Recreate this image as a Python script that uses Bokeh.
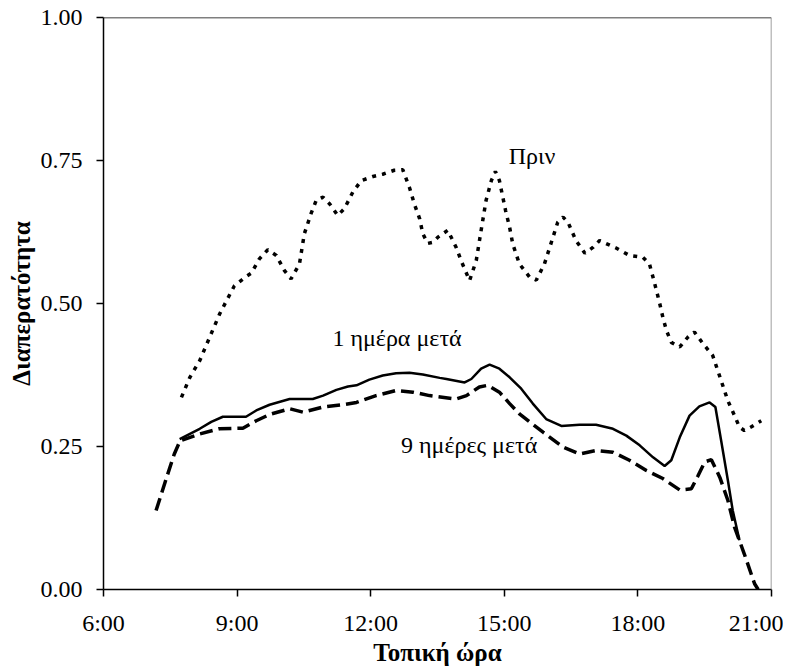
from bokeh.plotting import figure
from bokeh.models import Range1d, FixedTicker, Span, Label
from bokeh.embed import file_html
from bokeh.resources import INLINE

# ---- data (hours of local time, transmittance) ----
x_ticks = [6, 9, 12, 15, 18, 21]
x_tick_labels = ["6:00", "9:00", "12:00", "15:00", "18:00", "21:00"]
y_ticks = [0.0, 0.25, 0.5, 0.75, 1.0]
y_tick_labels = ["0.00", "0.25", "0.50", "0.75", "1.00"]

before_hours = [7.75, 7.94, 8.16, 8.45, 8.61, 8.77, 8.94, 9.20, 9.32, 9.50,
                9.69, 9.88, 10.06, 10.21, 10.40, 10.51, 10.66, 10.78, 10.93, 11.08,
                11.26, 11.41, 11.60, 11.79, 12.05, 12.27, 12.53, 12.72, 12.87, 12.98,
                13.10, 13.17, 13.28, 13.40, 13.51, 13.73, 13.92, 14.03, 14.22, 14.37,
                14.48, 14.59, 14.71, 14.80, 14.89, 15.03, 15.12, 15.19, 15.34, 15.57,
                15.72, 15.90, 16.02, 16.20, 16.32, 16.43, 16.61, 16.81, 16.99, 17.14,
                17.51, 17.81, 18.11, 18.26, 18.37, 18.49, 18.56, 18.64, 18.75, 18.94,
                19.12, 19.27, 19.46, 19.68, 19.87, 20.02, 20.17, 20.28, 20.39, 20.54,
                20.77]
before_vals = [0.336, 0.371, 0.400, 0.453, 0.482, 0.506, 0.531, 0.547, 0.553, 0.578,
               0.594, 0.584, 0.558, 0.543, 0.569, 0.622, 0.657, 0.681, 0.686, 0.674,
               0.654, 0.666, 0.695, 0.715, 0.722, 0.726, 0.733, 0.734, 0.703, 0.674,
               0.648, 0.622, 0.605, 0.607, 0.616, 0.628, 0.598, 0.575, 0.540, 0.575,
               0.628, 0.680, 0.715, 0.731, 0.715, 0.662, 0.633, 0.604, 0.569, 0.546,
               0.541, 0.569, 0.598, 0.642, 0.651, 0.642, 0.610, 0.588, 0.598, 0.610,
               0.597, 0.584, 0.581, 0.569, 0.537, 0.500, 0.476, 0.453, 0.432, 0.424,
               0.441, 0.450, 0.430, 0.409, 0.365, 0.330, 0.304, 0.284, 0.278, 0.284,
               0.295]

day1_hours = [7.71, 8.16, 8.42, 8.68, 9.20, 9.43, 9.73, 10.18, 10.70, 10.93,
              11.23, 11.49, 11.68, 11.97, 12.27, 12.57, 12.87, 13.17, 13.55, 13.70,
              14.11, 14.26, 14.48, 14.67, 14.89, 15.12, 15.38, 15.64, 15.94, 16.28,
              16.69, 17.06, 17.44, 17.74, 18.04, 18.34, 18.60, 18.75, 18.94, 19.16,
              19.38, 19.61, 19.74, 19.87, 20.02, 20.13, 20.28]
day1_vals = [0.263, 0.281, 0.293, 0.302, 0.302, 0.313, 0.323, 0.333, 0.333, 0.339,
             0.349, 0.355, 0.357, 0.367, 0.374, 0.378, 0.379, 0.376, 0.370, 0.368,
             0.362, 0.368, 0.386, 0.393, 0.386, 0.371, 0.351, 0.325, 0.298, 0.286,
             0.288, 0.288, 0.281, 0.269, 0.252, 0.231, 0.216, 0.226, 0.266, 0.304,
             0.320, 0.327, 0.319, 0.260, 0.191, 0.138, 0.086]

day9_hours = [7.18, 7.41, 7.59, 7.72, 8.16, 8.60, 9.13, 9.43, 9.73, 10.18,
              10.48, 10.93, 11.37, 11.68, 12.12, 12.57, 12.95, 13.32, 13.92, 14.15,
              14.44, 14.63, 14.89, 15.12, 15.34, 15.57, 15.87, 16.32, 16.69, 17.06,
              17.44, 17.81, 18.19, 18.56, 18.94, 19.20, 19.35, 19.50, 19.65, 19.84,
              20.02, 20.17, 20.39, 20.62, 20.70]
day9_vals = [0.138, 0.194, 0.237, 0.260, 0.272, 0.281, 0.282, 0.295, 0.306, 0.316,
             0.310, 0.319, 0.323, 0.327, 0.339, 0.348, 0.345, 0.339, 0.333, 0.339,
             0.354, 0.357, 0.345, 0.325, 0.307, 0.293, 0.275, 0.249, 0.237, 0.243,
             0.240, 0.226, 0.208, 0.194, 0.174, 0.176, 0.199, 0.223, 0.227, 0.196,
             0.156, 0.109, 0.062, 0.010, 0.000]

FONT = "Liberation Serif"

p = figure(frame_width=668, frame_height=572,
           x_range=Range1d(6, 21), y_range=Range1d(0, 1),
           output_backend="svg", toolbar_location=None,
           min_border_left=103, min_border_top=17, min_border_right=12,
           min_border_bottom=60, background_fill_color="white",
           border_fill_color="white")

p.xgrid.grid_line_color = None
p.ygrid.grid_line_color = None
p.outline_line_color = None

p.line(before_hours, before_vals, line_color="black", line_width=3.5, line_dash="4 6")
p.line(day1_hours, day1_vals, line_color="black", line_width=2.5)
p.line(day9_hours, day9_vals, line_color="black", line_width=3.5, line_dash="13 6")

# frame top and right borders
p.add_layout(Span(location=1.0, dimension="width", line_color="black", line_width=1.5))
p.add_layout(Span(location=21, dimension="height", line_color="#808080", line_width=1.5))

for ax in (p.xaxis[0], p.yaxis[0]):
    ax.axis_line_color = "black"
    ax.axis_line_width = 1.5
    ax.major_tick_line_color = "black"
    ax.major_tick_line_width = 1.5
    ax.major_tick_out = 7
    ax.major_tick_in = 0
    ax.minor_tick_line_color = None
    ax.major_label_text_font = FONT
    ax.major_label_text_font_size = "24px"
    ax.major_label_text_color = "black"
    ax.axis_label_text_font = FONT
    ax.axis_label_text_font_size = "25px"
    ax.axis_label_text_font_style = "bold"
    ax.axis_label_text_color = "black"

p.xaxis.ticker = FixedTicker(ticks=x_ticks)
p.xaxis.major_label_overrides = dict(zip(x_ticks, x_tick_labels))
p.xaxis.major_label_standoff = 13
p.xaxis.axis_label = "Τοπική ώρα"
p.xaxis.axis_label_standoff = 0

p.yaxis.ticker = FixedTicker(ticks=y_ticks)
p.yaxis.major_label_overrides = dict(zip(y_ticks, y_tick_labels))
p.yaxis.major_label_standoff = 14
p.yaxis.axis_label = "Διαπερατότητα"
p.yaxis.axis_label_standoff = 3

for txt, tx, ty in [("Πριν", 15.10, 0.758), ("1 ημέρα μετά", 11.14, 0.439),
                    ("9 ημέρες μετά", 12.68, 0.252)]:
    p.add_layout(Label(x=tx, y=ty, text=txt, text_font=FONT, text_font_size="24px",
                       text_color="black", text_align="left", text_baseline="middle"))

open("out.html", "w").write(file_html(p, INLINE))
